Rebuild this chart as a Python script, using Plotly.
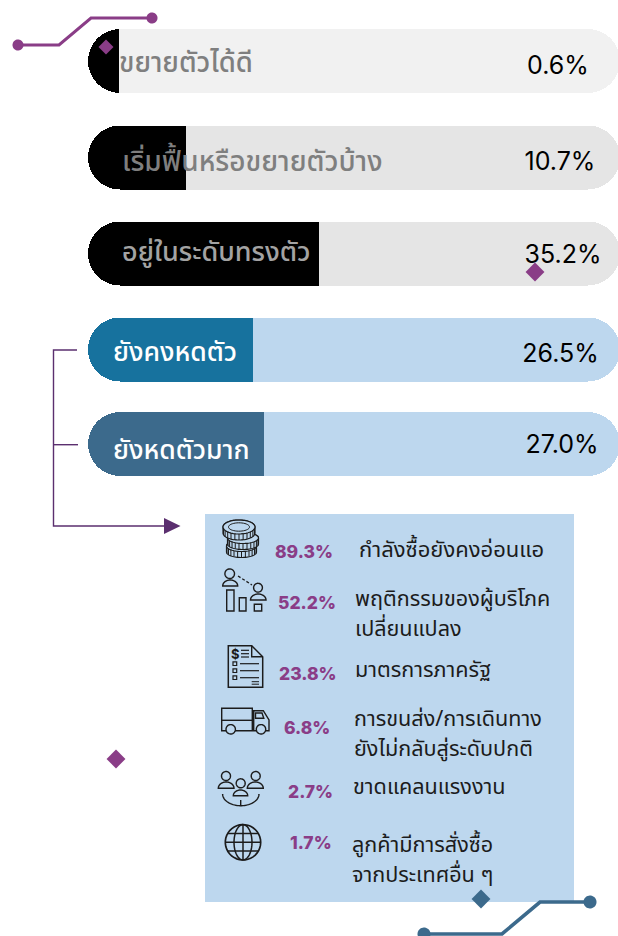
import numpy as np
import plotly.graph_objects as go

# ---- data ----
categories = ["ขยายตัวได้ดี", "เริ่มฟื้นหรือขยายตัวบ้าง", "อยู่ในระดับทรงตัว", "ยังคงหดตัว", "ยังหดตัวมาก"]
shares = ["0.6%", "10.7%", "35.2%", "26.5%", "27.0%"]
bar_lengths = [30.5, 98, 231, 165, 176]
reasons_pct = ["89.3%", "52.2%", "23.8%", "6.8%", "2.7%", "1.7%"]
reasons = [
    ["กำลังซื้อยังคงอ่อนแอ"],
    ["พฤติกรรมของผู้บริโภค", "เปลี่ยนแปลง"],
    ["มาตรการภาครัฐ"],
    ["การขนส่ง/การเดินทาง", "ยังไม่กลับสู่ระดับปกติ"],
    ["ขาดแคลนแรงงาน"],
    ["ลูกค้ามีการสั่งซื้อ", "จากประเทศอื่น ๆ"],
]

# ---- layout constants and styles ----
W, H = 618, 936
THAI = "Noto Sans Thai, Noto Sans, Open Sans, sans-serif"
NUM = "Inter, Noto Sans, sans-serif"
track_start, track_len = 88, 532
bar_y = [61, 157.5, 253.5, 349.5, 444]
bar_h = 64
track_col = ["#f1f1f1", "#e5e5e5", "#e5e5e5", "#bdd7ee", "#bdd7ee"]
fill_col = ["#000000", "#000000", "#000000", "#17729e", "#3c6a8c"]
label_col = ["#7f7f7f", "#7f7f7f", "#a3a3a3", "#ffffff", "#ffffff"]
label_x = [119, 122, 122, 113, 113]
label_y = [65, 164, 254, 354, 452]
label_size = [27.5, 28, 27, 26.5, 26.5]
val_x = [558, 560, 563, 560.5, 562]
val_y = [68, 164, 257, 356, 447]
pct_x = [303.5, 306.5, 308, 306.5, 310.5, 310.5]
pct_y = [551, 602, 673, 727, 791, 842]
reason_x = [357, 353, 353, 352, 351, 350]
reason_y = [[550], [599.6, 629.6], [670], [719, 749], [787], [845, 875]]
reason_size = [22, 21.6, 21.6, 21.6, 21.6, 21.6]
PURPLE, BLUE, DARK, INK, PANEL = "#8a3d87", "#3c6a8c", "#5b2f6f", "#1c1c1c", "#bdd7ee"

fig = go.Figure()
# pill-shaped tracks on the main axes
fig.add_trace(go.Bar(y=bar_y, x=[track_len] * 5, base=track_start, orientation="h", width=bar_h,
                     marker=dict(color=track_col, cornerradius=bar_h / 2, line_width=0), hoverinfo="skip"))
# filled part on overlaying axes: stacked so that only the left end is rounded
fig.add_trace(go.Bar(y=bar_y, x=[track_start + v for v in bar_lengths], orientation="h", width=bar_h,
                     xaxis="x2", yaxis="y2", marker=dict(color="rgba(0,0,0,0)", line_width=0), hoverinfo="skip"))
fig.add_trace(go.Bar(y=bar_y, x=[-v for v in bar_lengths], orientation="h", width=bar_h,
                     xaxis="x2", yaxis="y2",
                     marker=dict(color=fill_col, cornerradius=bar_h / 2, line_width=0), hoverinfo="skip"))
fig.add_trace(go.Scatter(x=label_x, y=label_y, mode="text", text=categories, textposition="middle right",
                         xaxis="x2", yaxis="y2",
                         textfont=dict(family=THAI, size=label_size, color=label_col, weight=500),
                         cliponaxis=False, hoverinfo="skip"))
fig.add_trace(go.Scatter(x=val_x, y=val_y, mode="text", text=shares, textposition="middle center",
                         xaxis="x2", yaxis="y2",
                         textfont=dict(family=NUM, size=25, color="#000000"), cliponaxis=False, hoverinfo="skip"))
fig.add_trace(go.Scatter(x=[106, 535, 116, 481], y=[47, 272, 759, 899], mode="markers", hoverinfo="skip",
                         xaxis="x2", yaxis="y2",
                         marker=dict(symbol="diamond", size=[11.5, 14.5, 14.5, 14.5], line_width=0, opacity=1,
                                     color=[PURPLE, PURPLE, PURPLE, BLUE]), cliponaxis=False))

shapes = []


def poly(pts, close=False, color=INK, w=1.4, fill=None, layer="above"):
    d = "M" + " L".join(f"{x:.2f},{y:.2f}" for x, y in pts) + (" Z" if close else "")
    s = dict(type="path", path=d, xref="x", yref="y", layer=layer, line=dict(color=color, width=w))
    if fill:
        s["fillcolor"] = fill
    shapes.append(s)


def arc(cx, cy, rx, ry, a0, a1, n=40):
    t = np.radians(np.linspace(a0, a1, n))
    return list(zip(cx + rx * np.cos(t), cy + ry * np.sin(t)))


def ell(cx, cy, rx, ry, color=INK, w=1.4, fill=None):
    poly(arc(cx, cy, rx, ry, 0, 360), True, color, w, fill)


def rect(x0, y0, x1, y1, color=INK, w=1.4, fill=None):
    poly([(x0, y0), (x1, y0), (x1, y1), (x0, y1)], True, color, w, fill)


def line(*pts, color=INK, w=1.4):
    poly(pts, False, color, w)


def person(cx, head_y, r, x0, x1, base, top):
    ell(cx, head_y, r, r)
    poly(arc((x0 + x1) / 2, base, (x1 - x0) / 2, base - top, 180, 360), True)


# panel
rect(205, 514, 574, 902, color=PANEL, w=0, fill=PANEL)
shapes[-1]["layer"] = "below"

# top and bottom connectors
line((18, 45), (59, 45), (91, 18), (152, 18), color=PURPLE, w=3)
ell(18, 45, 5.5, 5.5, PURPLE, 0, PURPLE)
ell(152, 18, 5.5, 5.5, PURPLE, 0, PURPLE)
line((424, 934), (502, 934), (540, 902), (590, 902), color=BLUE, w=3.6)
ell(424, 934, 6.5, 6.5, BLUE, 0, BLUE)
ell(590, 902, 6.5, 6.5, BLUE, 0, BLUE)

# bracket and arrow
line((77, 350), (53.5, 350), (53.5, 526), (165, 526), color=DARK, w=1.4)
line((53.5, 444.7), (78, 444.7), color=DARK, w=1.4)
poly([(164, 518), (180.5, 526), (164, 534)], True, DARK, 0, DARK)


# coins icon
def coin(cx, cy, rx, ry, h):
    poly(arc(cx, cy, rx, ry, 180, 360) + arc(cx, cy + h, rx, ry, 0, 180), True, INK, 1.2, PANEL)
    ell(cx, cy, rx, ry, INK, 1.2, PANEL)
    for a in np.arange(15, 170, 15):
        t = np.radians(a)
        x, y = cx + rx * np.cos(t), cy + ry * np.sin(t)
        line((x, y), (x, y + h), w=1)


coin(241.5, 546, 15, 5.5, 6)
coin(243, 538, 15.5, 5.5, 6)
coin(239, 527, 16, 7, 6)
ell(239, 527, 10.5, 4.2, INK, 1)

# people and bars icon
person(229.7, 573.7, 4.8, 222.7, 237.7, 586, 580)
person(258, 587.7, 4.4, 250.5, 266, 600, 594)
rect(226.7, 590, 234, 611)
rect(239.3, 597.7, 246, 611)
rect(254.3, 604.3, 261.7, 611)
shapes.append(dict(type="line", x0=238, y0=576, x1=252, y1=585, xref="x", yref="y",
                   line=dict(color=INK, width=1.3, dash="3px,2px")))

# document icon
poly([(228.3, 645.7), (251.7, 645.7), (262.7, 656.7), (262.7, 687.3), (228.3, 687.3)], True, INK, 1.5)
line((251.7, 645.7), (251.7, 656.7), (262.7, 656.7))
for yy in (650.3, 653.7, 657):
    line((241, yy), (249, yy), w=1.2)
for yy in (663.7, 670.7, 677.7):
    rect(233, yy - 1.8, 236.7, yy + 1.8, w=1.2)
    line((240, yy), (259, yy), w=1.2)
for yy in (681.7, 684.2):
    line((251.7, yy), (259, yy), w=1)

# truck icon
rect(221.7, 708.3, 252.3, 730.7)
line((221.7, 720.3), (252.3, 720.3))
poly([(253.7, 730.7), (253.7, 710.7), (263.3, 710.7), (269, 720), (269, 730.7)], True)
poly([(255.5, 713), (262, 713), (263.8, 718.3), (255.5, 718.3)], True)
ell(230.7, 729.3, 4.7, 4.7, INK, 1.4, PANEL)
ell(261, 729.3, 4.7, 4.7, INK, 1.4, PANEL)

# workers icon
person(226, 776, 4.5, 218.3, 234, 788.3, 782)
person(255.7, 776, 4.5, 247.3, 263.3, 788.3, 782)
person(240.7, 783.3, 4.5, 233.3, 247.7, 795.7, 790)
poly(arc(240.8, 794, 18.2, 11.7, 0, 180))
line((240.7, 800), (240.7, 805.7))

# globe icon
ell(243, 842.3, 17.7, 17.7, INK, 1.7)
ell(243, 842.3, 9, 17.7, INK, 1.5)
line((243, 824.6), (243, 860), w=1.5)
line((225.3, 842.3), (260.7, 842.3), w=1.5)
line((227.7, 833.5), (258.3, 833.5), w=1.5)
line((227.7, 851), (258.3, 851), w=1.5)

annotations = [dict(x=235.7, y=654, text="$", showarrow=False, xref="x", yref="y",
                    font=dict(family=NUM, size=13, color=INK, weight=700))]
for x, y, t in zip(pct_x, pct_y, reasons_pct):
    annotations.append(dict(x=x, y=y, text=t, showarrow=False, xref="x", yref="y", xanchor="center", yanchor="middle",
                            font=dict(family=NUM, size=17.5, color=PURPLE, weight=800)))
for x, ys, lines, fs in zip(reason_x, reason_y, reasons, reason_size):
    for y, t in zip(ys, lines):
        annotations.append(dict(x=x, y=y, text=t, showarrow=False, xref="x", yref="y", xanchor="left", yanchor="middle",
                                font=dict(family=THAI, size=fs, color=INK)))

axis_x = dict(range=[0, W], visible=False, fixedrange=True)
axis_y = dict(range=[H, 0], visible=False, fixedrange=True)
fig.update_layout(
    width=W, height=H, margin=dict(l=0, r=0, t=0, b=0), showlegend=False, barmode="stack",
    paper_bgcolor="#ffffff", plot_bgcolor="#ffffff", shapes=shapes, annotations=annotations,
    xaxis=axis_x, yaxis=axis_y,
    xaxis2=dict(axis_x, overlaying="x", anchor="y2"),
    yaxis2=dict(axis_y, overlaying="y", anchor="x2"),
)
fig.write_html("out.html", config=dict(displayModeBar=False),
               post_script="document.body.style.margin='0';document.documentElement.style.overflow='hidden';")
